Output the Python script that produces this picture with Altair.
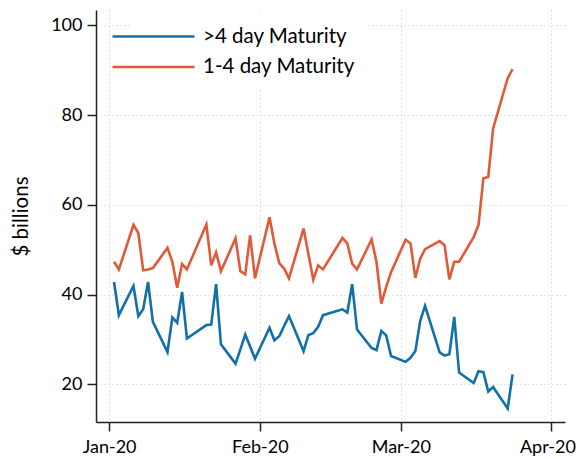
import altair as alt
import pandas as pd

dates = (
    ["2020-01-%02d" % d for d in [2, 3, 6, 7, 8, 9, 10, 13, 14, 15, 16, 17, 21, 22, 23, 24, 27, 28, 29, 30, 31]]
    + ["2020-02-%02d" % d for d in [3, 4, 5, 6, 7, 10, 11, 12, 13, 14, 18, 19, 20, 21, 24, 25, 26, 27, 28]]
    + ["2020-03-%02d" % d for d in [2, 3, 4, 5, 6, 9, 10, 11, 12, 13, 16, 17, 18, 19, 20, 23, 24]]
)

long_term = [
    42.8, 35.4, 41.9, 35.2, 36.7, 42.8, 33.9, 27.2, 34.9, 33.7, 40.6, 30.2, 33.2, 33.3, 42.3, 28.9, 24.6, 27.8, 31.1, 28.4, 25.7,
    32.6, 29.8, 30.7, 33.0, 35.2, 27.4, 31.0, 31.4, 32.8, 35.4, 36.7, 36.0, 42.3, 32.2, 28.1, 27.6, 31.9, 30.9, 26.3,
    25.0, 25.9, 27.4, 34.1, 37.5, 27.1, 26.4, 26.7, 35.0, 22.6, 20.3, 22.9, 22.7, 18.4, 19.4, 14.6, 22.2,
]

short_term = [
    47.3, 45.6, 55.5, 53.7, 45.4, 45.6, 45.9, 50.4, 47.3, 41.5, 46.8, 45.6, 55.6, 46.5, 49.4, 45.2, 52.5, 45.2, 44.5, 53.2, 43.6,
    57.2, 51.4, 47.0, 45.8, 43.6, 54.7, 49.0, 43.3, 46.5, 45.6, 52.6, 51.4, 46.9, 45.6, 52.3, 47.3, 38.0, 41.7, 45.0,
    52.2, 51.4, 43.7, 48.0, 50.1, 51.9, 51.0, 43.4, 47.3, 47.3, 52.8, 55.5, 65.9, 66.2, 77.0, 88.2, 90.2,
]

series_names = [">4 day Maturity", "1-4 day Maturity"]
series_colors = ["#1170a8", "#e05a3a"]

df = pd.concat([
    pd.DataFrame({"date": dates, "value": long_term, "series": series_names[0]}),
    pd.DataFrame({"date": dates, "value": short_term, "series": series_names[1]}),
])

x_ticks = ["2020-01-01", "2020-02-01", "2020-03-01", "2020-04-01"]
FONT = "Lato"

chart = alt.Chart(df).mark_line(strokeWidth=2.6).encode(
    x=alt.X(
        "date:T",
        title=None,
        scale=alt.Scale(domain=["2019-12-29T07:00:00", "2020-04-03T19:00:00"]),
        axis=alt.Axis(
            values=[pd.Timestamp(t).isoformat() for t in x_ticks],
            format="%b-%y",
            labelPadding=7,
            labelOffset={"condition": {"test": "month(datum.value) === 3", "value": -4}, "value": 0},
        ),
    ),
    y=alt.Y(
        "value:Q",
        title="$ billions",
        scale=alt.Scale(domain=[11.6, 103.4], nice=False, zero=False),
        axis=alt.Axis(values=[20, 40, 60, 80, 100], titlePadding=19, labelPadding=5),
    ),
    color=alt.Color(
        "series:N",
        scale=alt.Scale(domain=series_names, range=series_colors),
        sort=series_names,
        legend=alt.Legend(
            title=None,
            orient="none",
            legendX=34,
            legendY=3,
            fillColor="white",
            padding=12,
            symbolType="M-4.1,0H4.1",
            symbolSize=400,
            symbolStrokeWidth=2.6,
            labelFont=FONT,
            labelFontSize=20.5,
            labelColor="black",
            labelOffset=38,
            rowPadding=8.5,
        ),
    ),
).properties(
    width=469,
    height=412,
    autosize=alt.AutoSizeParams(type="none"),
    padding={"left": 88, "top": 2, "right": 12, "bottom": 36},
).configure_view(
    stroke=None
).configure_axis(
    labelFont=FONT,
    labelFontSize=18,
    labelColor="black",
    titleFont=FONT,
    titleFontSize=20.5,
    titleFontWeight="normal",
    titleColor="black",
    domainColor="#222",
    domainWidth=1.5,
    tickColor="#222",
    tickWidth=1.5,
    tickSize=9,
    grid=True,
    gridColor="#c8c8c8",
    gridDash=[1, 3],
    gridWidth=1,
)

chart.save("out.html", embed_options={"renderer": "svg", "actions": False})
